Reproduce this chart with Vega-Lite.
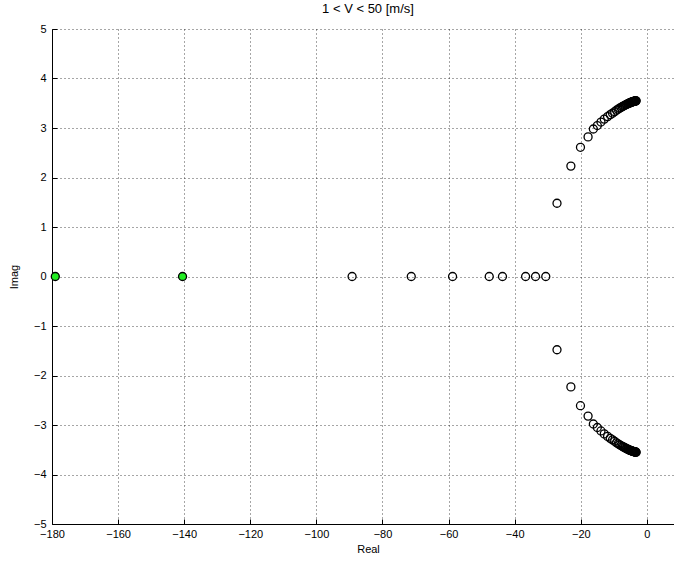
{
  "$schema": "https://vega.github.io/schema/vega-lite/v6.json",
  "width": 622,
  "height": 495,
  "autosize": {"type": "none"},
  "padding": {"left": 52, "top": 29, "right": 0, "bottom": 38},
  "background": "white",
  "config": {"view": {"stroke": null}, "font": "Liberation Sans"},
  "title": {"text": "1 < V < 50  [m/s]", "fontSize": 13, "fontWeight": "normal", "color": "#000", "anchor": "middle", "dx": 5, "offset": 7},
  "data": {"values": [
    {"re": -179.0, "im": 0, "k": "z"},
    {"re": -140.5, "im": 0, "k": "z"},
    {"re": -89.2, "im": 0, "k": "p"},
    {"re": -71.3, "im": 0, "k": "p"},
    {"re": -58.8, "im": 0, "k": "p"},
    {"re": -47.7, "im": 0, "k": "p"},
    {"re": -43.7, "im": 0, "k": "p"},
    {"re": -36.7, "im": 0, "k": "p"},
    {"re": -33.7, "im": 0, "k": "p"},
    {"re": -30.6, "im": 0, "k": "p"},
    {"re": -27.2, "im": 1.48, "k": "p"},
    {"re": -23.0, "im": 2.23, "k": "p"},
    {"re": -20.1, "im": 2.61, "k": "p"},
    {"re": -17.8, "im": 2.82, "k": "p"},
    {"re": -16.2, "im": 2.98, "k": "p"},
    {"re": -15.0, "im": 3.05, "k": "p"},
    {"re": -13.9, "im": 3.12, "k": "p"},
    {"re": -12.9, "im": 3.18, "k": "p"},
    {"re": -11.9, "im": 3.23, "k": "p"},
    {"re": -11.09, "im": 3.27, "k": "p"},
    {"re": -10.39, "im": 3.30, "k": "p"},
    {"re": -9.76, "im": 3.33, "k": "p"},
    {"re": -9.21, "im": 3.36, "k": "p"},
    {"re": -8.71, "im": 3.38, "k": "p"},
    {"re": -8.26, "im": 3.40, "k": "p"},
    {"re": -7.85, "im": 3.415, "k": "p"},
    {"re": -7.47, "im": 3.43, "k": "p"},
    {"re": -7.13, "im": 3.443, "k": "p"},
    {"re": -6.82, "im": 3.454, "k": "p"},
    {"re": -6.53, "im": 3.464, "k": "p"},
    {"re": -6.26, "im": 3.474, "k": "p"},
    {"re": -6.02, "im": 3.482, "k": "p"},
    {"re": -5.79, "im": 3.489, "k": "p"},
    {"re": -5.57, "im": 3.496, "k": "p"},
    {"re": -5.37, "im": 3.502, "k": "p"},
    {"re": -5.18, "im": 3.508, "k": "p"},
    {"re": -5.01, "im": 3.512, "k": "p"},
    {"re": -4.84, "im": 3.517, "k": "p"},
    {"re": -4.69, "im": 3.521, "k": "p"},
    {"re": -4.54, "im": 3.525, "k": "p"},
    {"re": -4.40, "im": 3.528, "k": "p"},
    {"re": -4.27, "im": 3.531, "k": "p"},
    {"re": -4.14, "im": 3.534, "k": "p"},
    {"re": -4.02, "im": 3.537, "k": "p"},
    {"re": -3.91, "im": 3.539, "k": "p"},
    {"re": -3.80, "im": 3.541, "k": "p"},
    {"re": -3.70, "im": 3.543, "k": "p"},
    {"re": -3.61, "im": 3.544, "k": "p"},
    {"re": -3.51, "im": 3.546, "k": "p"},
    {"re": -3.42, "im": 3.547, "k": "p"},
    {"re": -3.34, "im": 3.548, "k": "p"},
    {"re": -3.26, "im": 3.549, "k": "p"},
    {"re": -27.2, "im": -1.48, "k": "p"},
    {"re": -23.0, "im": -2.23, "k": "p"},
    {"re": -20.1, "im": -2.61, "k": "p"},
    {"re": -17.8, "im": -2.82, "k": "p"},
    {"re": -16.2, "im": -2.98, "k": "p"},
    {"re": -15.0, "im": -3.05, "k": "p"},
    {"re": -13.9, "im": -3.12, "k": "p"},
    {"re": -12.9, "im": -3.18, "k": "p"},
    {"re": -11.9, "im": -3.23, "k": "p"},
    {"re": -11.09, "im": -3.27, "k": "p"},
    {"re": -10.39, "im": -3.30, "k": "p"},
    {"re": -9.76, "im": -3.33, "k": "p"},
    {"re": -9.21, "im": -3.36, "k": "p"},
    {"re": -8.71, "im": -3.38, "k": "p"},
    {"re": -8.26, "im": -3.40, "k": "p"},
    {"re": -7.85, "im": -3.415, "k": "p"},
    {"re": -7.47, "im": -3.43, "k": "p"},
    {"re": -7.13, "im": -3.443, "k": "p"},
    {"re": -6.82, "im": -3.454, "k": "p"},
    {"re": -6.53, "im": -3.464, "k": "p"},
    {"re": -6.26, "im": -3.474, "k": "p"},
    {"re": -6.02, "im": -3.482, "k": "p"},
    {"re": -5.79, "im": -3.489, "k": "p"},
    {"re": -5.57, "im": -3.496, "k": "p"},
    {"re": -5.37, "im": -3.502, "k": "p"},
    {"re": -5.18, "im": -3.508, "k": "p"},
    {"re": -5.01, "im": -3.512, "k": "p"},
    {"re": -4.84, "im": -3.517, "k": "p"},
    {"re": -4.69, "im": -3.521, "k": "p"},
    {"re": -4.54, "im": -3.525, "k": "p"},
    {"re": -4.40, "im": -3.528, "k": "p"},
    {"re": -4.27, "im": -3.531, "k": "p"},
    {"re": -4.14, "im": -3.534, "k": "p"},
    {"re": -4.02, "im": -3.537, "k": "p"},
    {"re": -3.91, "im": -3.539, "k": "p"},
    {"re": -3.80, "im": -3.541, "k": "p"},
    {"re": -3.70, "im": -3.543, "k": "p"},
    {"re": -3.61, "im": -3.544, "k": "p"},
    {"re": -3.51, "im": -3.546, "k": "p"},
    {"re": -3.42, "im": -3.547, "k": "p"},
    {"re": -3.34, "im": -3.548, "k": "p"},
    {"re": -3.26, "im": -3.549, "k": "p"}
  ]},
  "mark": {"type": "point", "filled": true, "shape": "circle", "size": 64, "stroke": "#000", "strokeWidth": 1.3, "opacity": 1},
  "encoding": {
    "x": {
      "field": "re", "type": "quantitative",
      "scale": {"domain": [-180, 8.2], "nice": false, "zero": false},
      "axis": {
        "values": [-180, -160, -140, -120, -100, -80, -60, -40, -20, 0],
        "grid": true, "gridDash": [1, 3], "gridColor": "#000", "gridOpacity": 0.7, "gridWidth": 1,
        "domainColor": "#000", "domainWidth": 1, "tickColor": "#000", "tickSize": -5, "tickWidth": 1,
        "labelFont": "Liberation Sans", "labelFontSize": 11, "labelColor": "#000", "labelPadding": 9,
        "labelFlush": false, "labelOverlap": false,
        "title": "Real", "titleFont": "Liberation Sans", "titleFontSize": 11, "titleFontWeight": "normal", "titleColor": "#000", "titlePadding": 4,
        "titleX": 316
      }
    },
    "y": {
      "field": "im", "type": "quantitative",
      "scale": {"domain": [-5, 5], "nice": false, "zero": false},
      "axis": {
        "values": [-5, -4, -3, -2, -1, 0, 1, 2, 3, 4, 5],
        "grid": true, "gridDash": [1, 3], "gridColor": "#000", "gridOpacity": 0.7, "gridWidth": 1,
        "domainColor": "#000", "domainWidth": 1, "tickColor": "#000", "tickSize": -5, "tickWidth": 1,
        "labelFont": "Liberation Sans", "labelFontSize": 11, "labelColor": "#000", "labelPadding": 11,
        "labelFlush": false, "labelOverlap": false,
        "title": "Imag", "titleFont": "Liberation Sans", "titleFontSize": 11, "titleFontWeight": "normal", "titleColor": "#000",
        "titleX": -38, "titleBaseline": "middle"
      }
    },
    "fill": {"field": "k", "type": "nominal", "scale": {"domain": ["z", "p"], "range": ["#22ee22", "rgba(255,255,255,0)"]}, "legend": null}
  }
}
